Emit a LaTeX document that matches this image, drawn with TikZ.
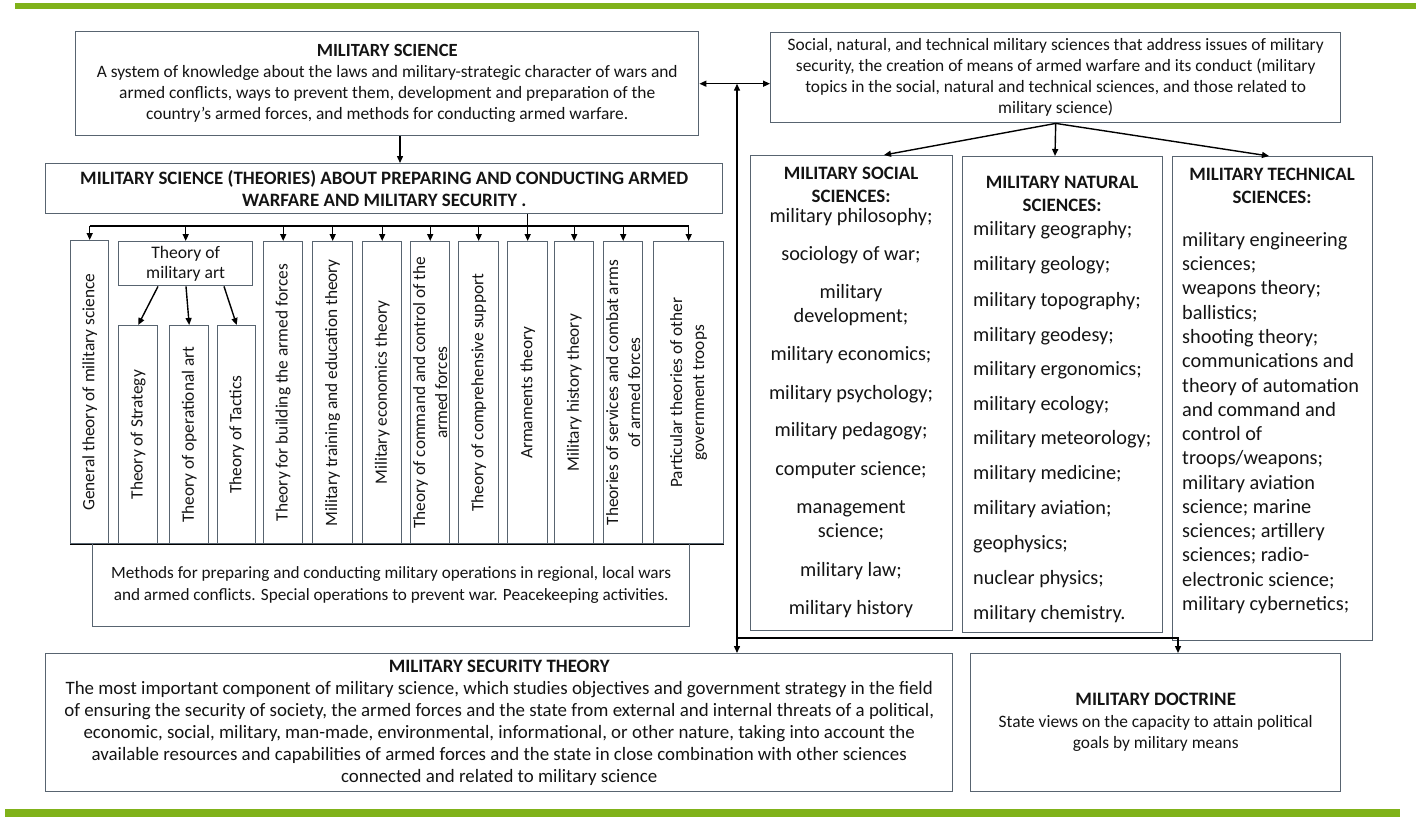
\documentclass[tikz,border=0pt]{standalone}
\usepackage{fontspec}
\setmainfont{Carlito}
\usetikzlibrary{arrows.meta,calc}
\definecolor{bargreen}{RGB}{128,178,26}
\definecolor{boxline}{RGB}{88,100,112}
\definecolor{txt}{RGB}{20,20,20}
\newcommand{\fsz}[2]{\fontsize{#1}{#2}\selectfont}
\begin{document}
\begin{tikzpicture}[x=1pt,y=-1pt,
 box/.style={draw=boxline,line width=1.4pt,inner sep=0pt,anchor=north west,align=center,text=txt},
 arr/.style={line width=1.4pt,-{Triangle[length=7pt,width=6pt]}},
 darr/.style={line width=1.4pt,{Triangle[length=7pt,width=6pt]}-{Triangle[length=7pt,width=6pt]}},
 ln/.style={line width=1.4pt},
 vtext/.style={rotate=90,align=center,text=txt,font=\fsz{17.3}{22},inner sep=0pt},
 item/.style={text=txt,font=\fsz{20.3}{24},inner sep=0pt},
 ttl/.style={text=txt,font=\fsz{18.9}{22.5}\bfseries,align=center,inner sep=0pt}]
\useasboundingbox (0,0) rectangle (1423,825);
\fill[bargreen] (15,3) rectangle (1416,9);
\fill[bargreen] (5,809) rectangle (1400,817);

% top boxes
\node[box,minimum width=623pt,minimum height=104pt,font=\fsz{17.4}{21}] (ms) at (75,31)
 {{\bfseries\fsz{18.6}{21}MILITARY SCIENCE}\\A system of knowledge about the laws and military-strategic character of wars and\\armed conflicts, ways to prevent them, development and preparation of the\\country's armed forces, and methods for conducting armed warfare.};
\node[box,minimum width=677pt,minimum height=50pt,font=\fsz{18.9}{22}\bfseries] (th) at (45,163)
 {MILITARY SCIENCE (THEORIES) ABOUT PREPARING AND CONDUCTING ARMED\\WARFARE AND MILITARY SECURITY .};
\node[box,minimum width=570pt,minimum height=90pt,font=\fsz{17.4}{21}] (tr) at (770,32)
 {Social, natural, and technical military sciences that address issues of military\\security, the creation of means of armed warfare and its conduct (military\\topics in the social, natural and technical sciences, and those related to\\military science)};

% columns
\node[box,minimum width=38pt,minimum height=303pt] (general) at (70,240) {};
\node[box,minimum width=134pt,minimum height=44pt,font=\fsz{17.6}{20}] (art) at (118,241) {Theory of\\military art};
\node[box,minimum width=39pt,minimum height=218pt] (strat) at (118,325) {};
\node[box,minimum width=39pt,minimum height=218pt] (oper) at (169,325) {};
\node[box,minimum width=38pt,minimum height=218pt] (tact) at (217,325) {};
\node[box,minimum width=39pt,minimum height=302pt] (build) at (263,241) {};
\node[box,minimum width=40pt,minimum height=302pt] (train) at (312,241) {};
\node[box,minimum width=39pt,minimum height=302pt] (econ) at (362,241) {};
\node[box,minimum width=39pt,minimum height=302pt] (cmd) at (410,241) {};
\node[box,minimum width=40pt,minimum height=302pt] (supp) at (458,241) {};
\node[box,minimum width=40pt,minimum height=302pt] (arm) at (507,241) {};
\node[box,minimum width=39pt,minimum height=302pt] (hist) at (554,241) {};
\node[box,minimum width=39pt,minimum height=302pt] (serv) at (603,241) {};
\node[box,minimum width=70pt,minimum height=302pt] (part) at (653,241) {};

\node[vtext] (tgeneral) at (general) {General theory of military science};
\node[vtext] (tstrat) at (strat) {Theory of Strategy};
\node[vtext] (toper) at (oper) {Theory of operational art};
\node[vtext] (ttact) at (tact) {Theory of Tactics};
\node[vtext] (tbuild) at (build) {Theory for building the armed forces};
\node[vtext] (ttrain) at (train) {Military training and education theory};
\node[vtext] (tecon) at (econ) {Military economics theory};
\node[vtext] (tcmd) at (cmd) {Theory of command and control of the\\armed forces};
\node[vtext] (tsupp) at (supp) {Theory of comprehensive support};
\node[vtext] (tarm) at (arm) {Armaments theory};
\node[vtext] (thist) at (hist) {Military history theory};
\node[vtext] (tserv) at (serv) {Theories of services and combat arms\\of armed forces};
\node[vtext] (tpart) at (part) {Particular theories of other\\government troops};

\draw[ln] (general.south west) -- (part.south east);
\node[box,minimum width=597pt,minimum height=83pt,font=\fsz{17.2}{21.5}] (meth) at (92,543)
 {Methods for preparing and conducting military operations in regional, local wars\\and armed conflicts. Special operations to prevent war. Peacekeeping activities.};

% right columns
\node[box,minimum width=202pt,minimum height=475pt] (social) at (750,155) {};
\node[box,minimum width=200pt,minimum height=476pt] (natural) at (962,156) {};
\node[box,minimum width=200pt,minimum height=484pt] (tech) at (1172,156) {};
\node[ttl] (socT) at (851,185) {MILITARY SOCIAL\\SCIENCES:};
\node[ttl] (natT) at (1062,194) {MILITARY NATURAL\\SCIENCES:};
\node[ttl] (tecT) at (1272,186) {MILITARY TECHNICAL\\SCIENCES:};
\foreach \t/\y [count=\i] in {{military philosophy;}/220,{sociology of war;}/258,{military}/296,{development;}/320,{military economics;}/358,{military psychology;}/397,{military pedagogy;}/434,{computer science;}/473,{management}/511,{science;}/535,{military law;}/574,{military history}/612}
  \node[item,anchor=mid] (soc\i) at (851,\y) {\t};
\foreach \t/\y [count=\i] in {{military geography;}/233,{military geology;}/268,{military topography;}/304,{military geodesy;}/339,{military ergonomics;}/373,{military ecology;}/408,{military meteorology;}/442,{military medicine;}/477,{military aviation;}/512,{geophysics;}/547,{nuclear physics;}/582,{military chemistry.}/617}
  \node[item,anchor=mid west] (nat\i) at (973,\y) {\t};
\foreach \t [count=\i] in {{military engineering},{sciences;},{weapons theory;},{ballistics;},{shooting theory;},{communications and},{theory of automation},{and command and},{control of},{troops/weapons;},{military aviation},{science; marine},{sciences; artillery},{sciences; radio-},{electronic science;},{military cybernetics;}}
  \node[item,anchor=mid west] (tec\i) at (1182,{244+24.27*(\i-1)}) {\t};

% bottom boxes
\node[box,minimum width=907pt,minimum height=138pt,font=\fsz{18.9}{22}] (mst) at (45,653)
 {{\bfseries MILITARY SECURITY THEORY}\\The most important component of military science, which studies objectives and government strategy in the field\\of ensuring the security of society, the armed forces and the state from external and internal threats of a political,\\economic, social, military, man-made, environmental, informational, or other nature, taking into account the\\available resources and capabilities of armed forces and the state in close combination with other sciences\\connected and related to military science};
\node[box,minimum width=370pt,minimum height=138pt,font=\fsz{17.4}{21.5}] (doc) at (970,653)
 {{\bfseries\fsz{19}{21.5}MILITARY DOCTRINE}\\State views on the capacity to attain political\\goals by military means};

% connectors
\coordinate (x400) at (400,0);
\draw[arr] (ms.south -| x400) -- (th.north -| x400);
\coordinate (busL) at (89,226);
\draw[ln] (general.north |- busL) -- (part.north |- busL);
\foreach \n in {general,art,build,train,econ,cmd,supp,arm,hist,serv,part}
  \draw[arr] (\n.north |- busL) -- (\n.north);
\draw[ln] (th.south -| arm.north) -- (arm.north |- busL);
\draw[arr] ($(art.south west)+(40,0)$) -- (strat.north);
\draw[arr] ($(art.south west)+(68,0)$) -- (oper.north);
\draw[arr] ($(art.south west)+(106,0)$) -- (tact.north);
\draw[darr] (ms.east) -- (ms.east -| tr.west);
\coordinate (vx) at (737,0);
\draw[darr] (ms.east -| vx) -- (mst.north -| vx);
\coordinate (br) at (737,638);
\coordinate (dx) at (1178,0);
\draw[arr] (br) -- (br -| dx) -- (doc.north -| dx);
\draw[arr] (tr.south) -- ($(social.north west)+(134,0)$);
\draw[arr] (tr.south) -- ($(natural.north west)+(93,0)$);
\draw[arr] (tr.south) -- ($(tech.north west)+(97,0)$);
\end{tikzpicture}
\end{document}
